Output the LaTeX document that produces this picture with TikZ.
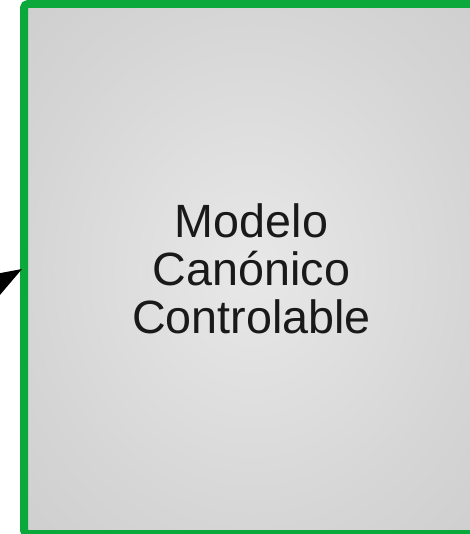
\documentclass[tikz,border=0pt]{standalone}
\usepackage{fontspec}
\setmainfont{Liberation Sans}
\usetikzlibrary{arrows.meta}
\definecolor{boxgreen}{HTML}{0BA83C}
\definecolor{shadeA}{HTML}{E8E8E8}
\definecolor{shadeB}{HTML}{D5D5D5}
\definecolor{shadeC}{HTML}{C6C6C6}
\definecolor{shadeD}{HTML}{BABABA}
\pgfdeclareradialshading{boxglow}{\pgfpoint{0bp}{0bp}}{color(0bp)=(shadeA); color(25bp)=(shadeB); color(50bp)=(shadeC); color(71bp)=(shadeD); color(100bp)=(shadeD)}
\tikzset{
  px/.style={x=0.75pt,y=-0.75pt},
  mainbox/.style={rectangle, rounded corners=3pt, draw=boxgreen, line width=6pt,
    shading=boxglow,
    minimum width=341.25pt, minimum height=397.5pt, outer sep=1.5pt,
    align=center, font=\fontsize{35}{36}\selectfont, text=black!90},
  inarrow/.style={line width=1.5pt, -{Triangle[length=27pt,width=18.75pt]}}
}
\begin{document}
\begin{tikzpicture}[px]
\useasboundingbox (0,0) rectangle (469,534);
\coordinate (src) at (-40,305);
\node[mainbox] (box) at (251.5,269) {Modelo\\Canónico\\Controlable};
\draw[inarrow] (src) -- (box.west);
\end{tikzpicture}
\end{document}
